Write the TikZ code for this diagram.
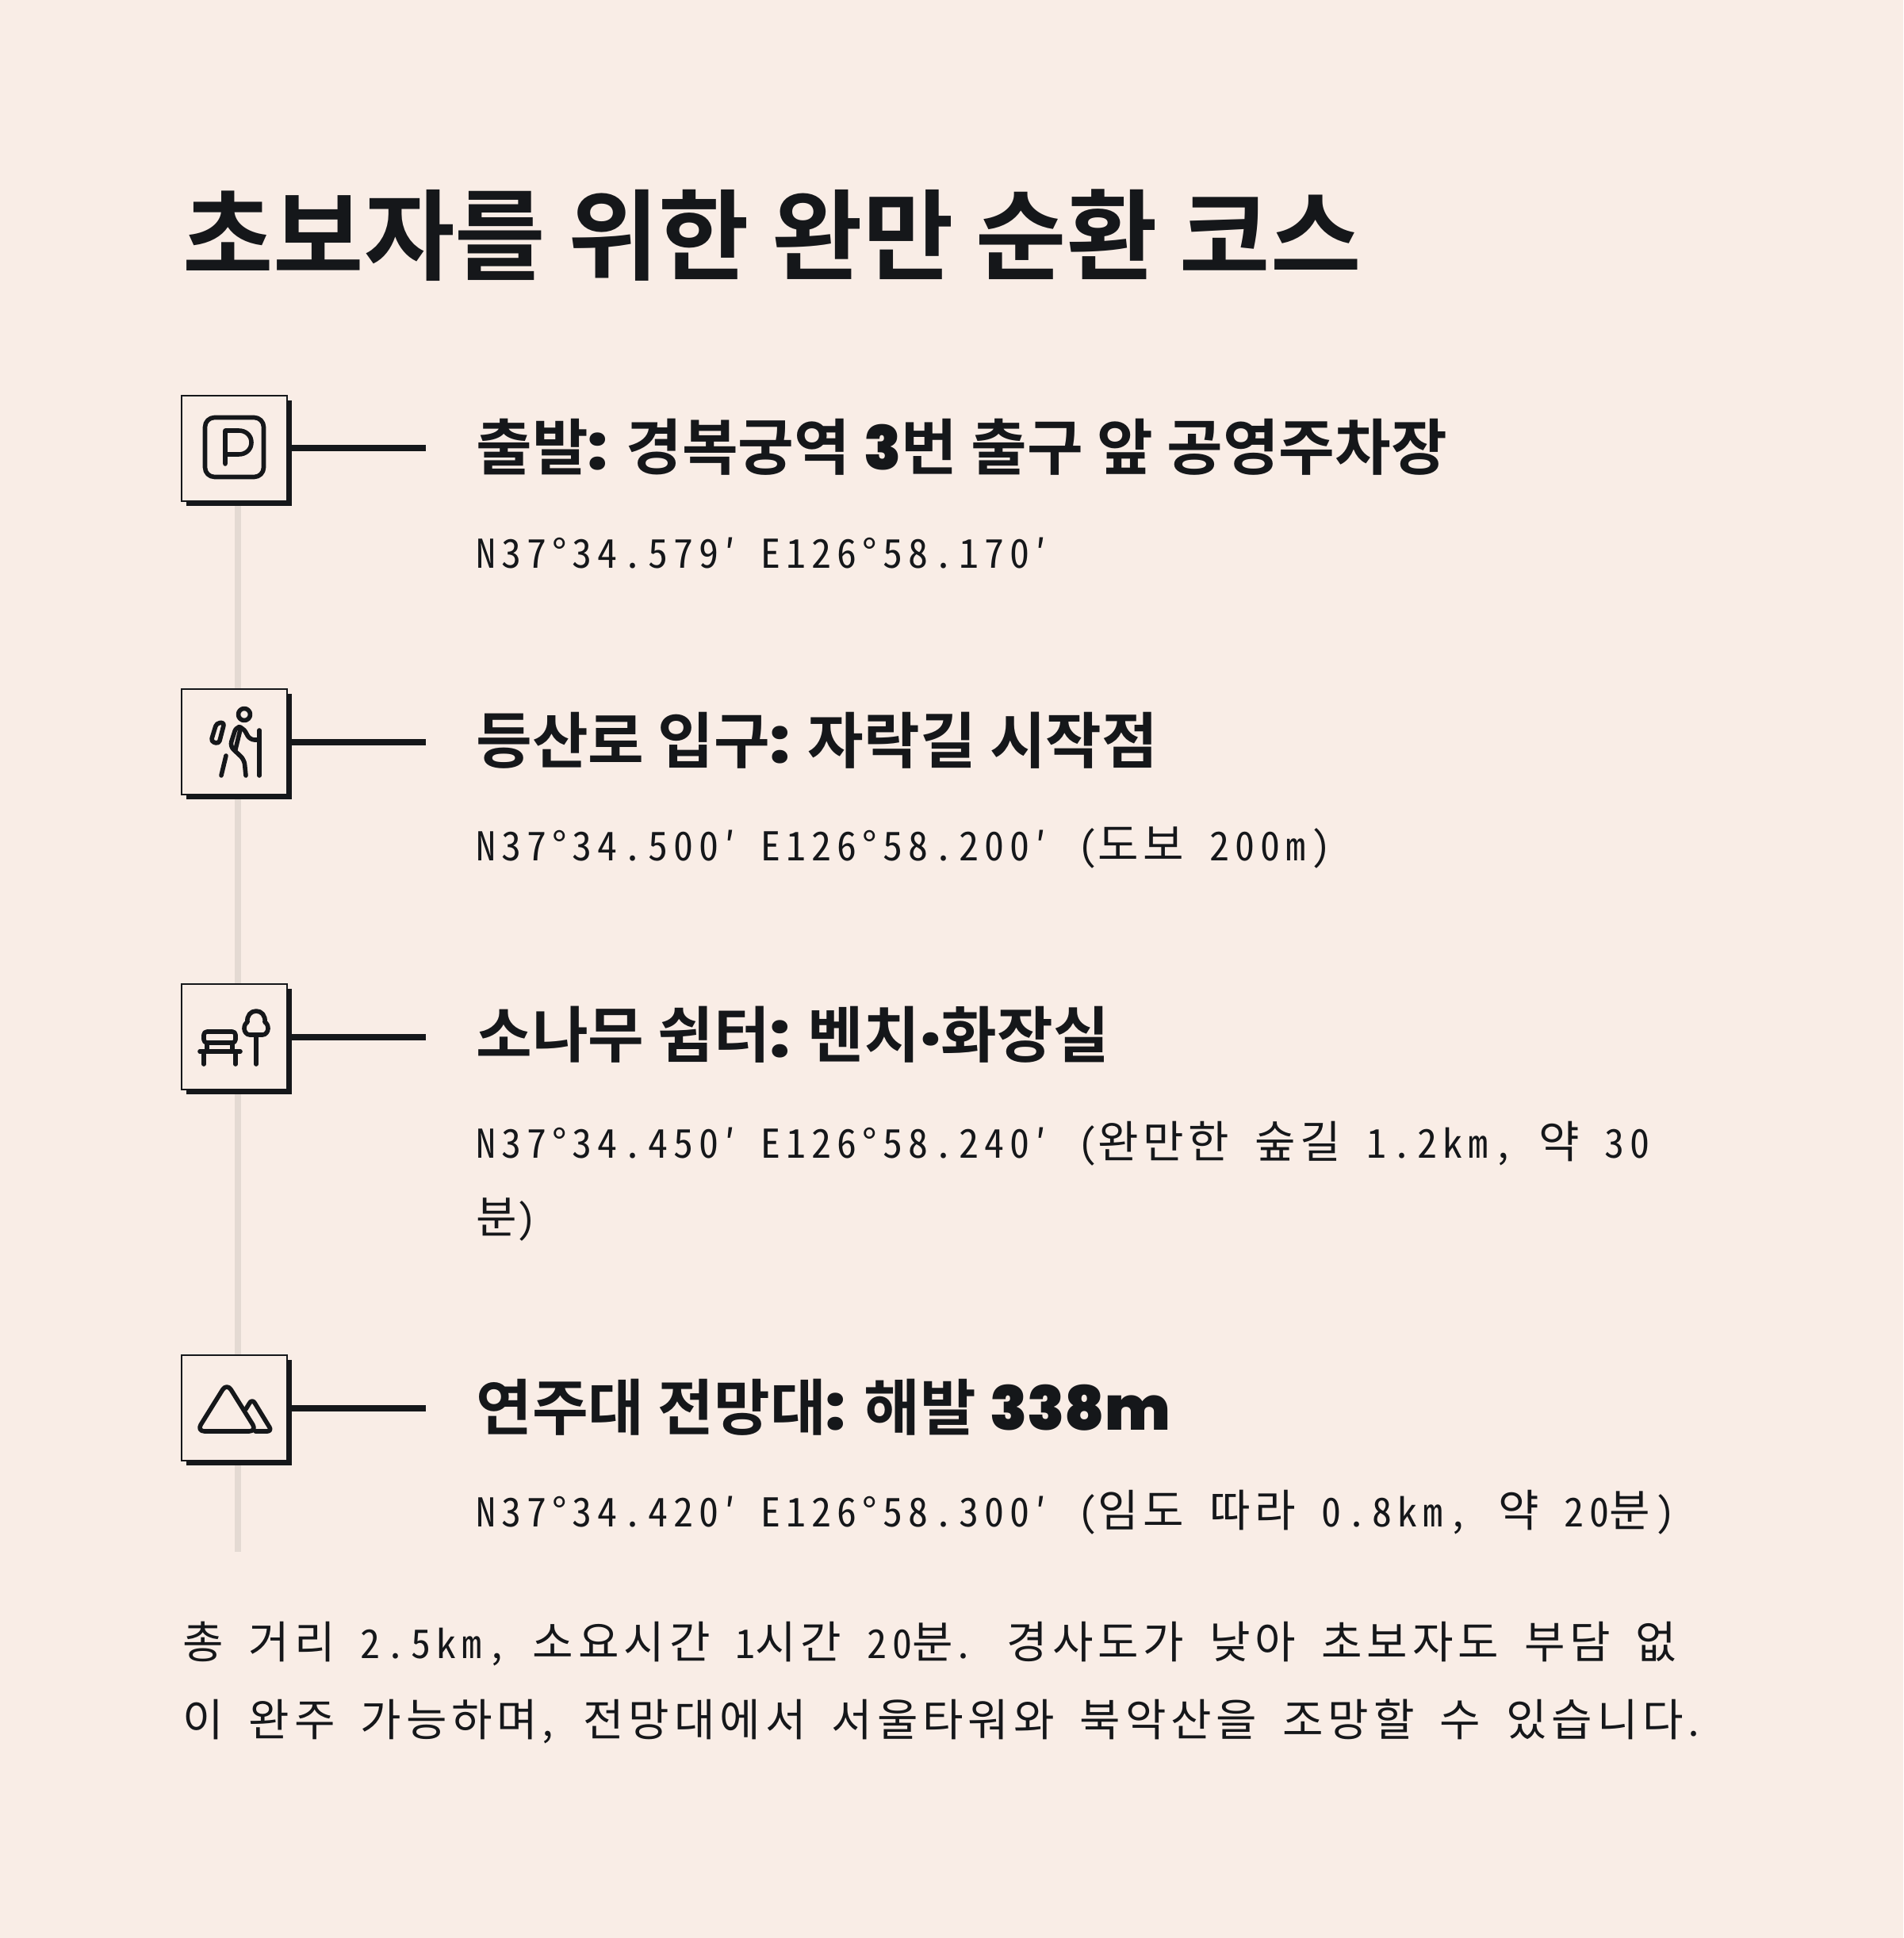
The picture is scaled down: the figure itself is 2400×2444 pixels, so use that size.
\documentclass[tikz,border=0pt]{standalone}
\usepackage{fontspec}
\usepackage{xcolor}
\usetikzlibrary{positioning, backgrounds, shadows}
\setmainfont{Noto Sans CJK KR}[BoldFont={* Black}]
\newfontfamily\titlefont{Noto Sans CJK KR Bold}
\newfontfamily\coordfont{Noto Sans Mono CJK KR}[LetterSpace=14]
\newfontfamily\hangulfont{Noto Sans Mono CJK KR}[Scale=1.12,LetterSpace=10.5]
\newfontfamily\heavyfont{Poppins}[UprightFont={* Black}]
\newcommand{\hv}[1]{{\heavyfont #1}}
\newcommand{\hg}[1]{{\hangulfont #1}}
\definecolor{paper}{HTML}{F9EDE6}
\definecolor{ink}{HTML}{15171A}
\definecolor{trailcol}{HTML}{E4DAD3}

\begin{document}
\begin{tikzpicture}[
    x=0.5pt, y=-0.5pt,
    iconbox/.style={rectangle, draw=ink, line width=1pt, fill=paper, minimum size=66.5pt, inner sep=0pt,
        drop shadow={shadow xshift=3pt, shadow yshift=-3pt, fill=ink, opacity=1}},
    stem/.style={draw=ink, line width=4pt},
    trail/.style={draw=trailcol, line width=4pt},
    glyph/.style={draw=ink, line width=2.8pt, line cap=round, line join=round},
    headline/.style={anchor=base west, inner sep=0pt, text=ink, font=\titlefont\fontsize{62.2}{66}\selectfont},
    stoplabel/.style={anchor=base west, inner sep=0pt, text=ink, font=\titlefont\fontsize{38.4}{42}\selectfont},
    coordlabel/.style={anchor=base west, inner sep=0pt, text=ink, align=left, font=\coordfont\fontsize{25}{47.5}\selectfont},
    footnote/.style={anchor=base west, inner sep=0pt, text=ink, align=left, font=\coordfont\fontsize{25}{49}\selectfont}
]
    \useasboundingbox (0,0) rectangle (2400,2444);

    % Title
    \node[headline] (title) at (230,344) {초보자를 위한 완만 순환 코스};

    % Stops
    \node[iconbox] (park) at (295.5,565.5) {};
    \node[iconbox] (hiker) at (295.5,935.5) {};
    \node[iconbox] (rest) at (295.5,1307.5) {};
    \node[iconbox] (peak) at (295.5,1775.5) {};

    % Stop labels
    \node[stoplabel] (parkT) at (600,593) {출발\hv{:} 경복궁역 \hv{3}번 출구 앞 공영주차장};
    \node[coordlabel] (parkC) at (600,716) {N37°34.579′ E126°58.170′};
    \node[stoplabel] (hikerT) at (600,962) {등산로 입구\hv{:} 자락길 시작점};
    \node[coordlabel] (hikerC) at (600,1085) {N37°34.500′ E126°58.200′ \kern4pt(\hg{도보} 200m)};
    \node[stoplabel] (restT) at (600,1333) {소나무 쉼터\hv{:} 벤치\hv{·}화장실};
    \node[coordlabel] (restC) at (600,1555) {N37°34.450′ E126°58.240′ \kern4pt(\hg{완만한} \hg{숲길} 1.2km, \hg{약} 30\\\hg{분})};
    \node[stoplabel] (peakT) at (600,1803) {연주대 전망대\hv{:} 해발 \hv{338m}};
    \node[coordlabel] (peakC) at (600,1925) {N37°34.420′ E126°58.300′ \kern4pt(\hg{임도} \hg{따라} 0.8km, \kern3pt\hg{약} 20\hg{분}\kern3pt)};

    % Summary
    \node[footnote] (summary) at (230,2189) {\hg{총} \hg{거리} 2.5km, \hg{소요시간} 1\hg{시간} 20\hg{분}. \hg{경사도가} \hg{낮아} \hg{초보자도} \hg{부담} \hg{없}\\\hg{이} \hg{완주} \hg{가능하며}, \hg{전망대에서} \hg{서울타워와} \hg{북악산을} \hg{조망할} \hg{수} \hg{있습니다}.};

    % Leader lines
    \coordinate[right=87pt of park.east] (parkE);
    \coordinate[right=87pt of hiker.east] (hikerE);
    \coordinate[right=87pt of rest.east] (restE);
    \coordinate[right=87pt of peak.east] (peakE);
    \draw[stem] (park.east) -- (parkE);
    \draw[stem] (hiker.east) -- (hikerE);
    \draw[stem] (rest.east) -- (restE);
    \draw[stem] (peak.east) -- (peakE);

    % Trail behind the boxes
    \coordinate (trailS) at (300,565);
    \coordinate (trailE) at (300,1957);
    \begin{scope}[on background layer]
        \fill[paper] (0,0) rectangle (2400,2444);
        \draw[trail] (trailS) -- (trailE);
    \end{scope}

    % Parking icon
    \begin{scope}[shift={(228,498)}]
        \draw[glyph, rounded corners=6pt] (30.5,28.5) rectangle (104.5,103.5);
        \draw[glyph] (56,87) -- (56,45) -- (73,45) .. controls (82,45) and (89,51) .. (89,60)
            .. controls (89,69) and (82,75) .. (73,75) -- (56,75);
    \end{scope}

    % Hiker icon
    \begin{scope}[shift={(228,868)}]
        \draw[glyph] (80,33) circle (7.5);
        \draw[glyph, rounded corners=2pt] (45,44) -- (55,43) -- (48,70) -- (38,67) -- cycle;
        \draw[glyph, rounded corners=3pt] (97,65) -- (87,65) -- (79,50) -- (70,48) -- (62,73) -- (80,90) -- (82,110);
        \draw[glyph] (75,52) -- (69,77);
        \draw[glyph] (99,53) -- (99,110);
        \draw[glyph] (57,85) -- (51,110);
    \end{scope}

    % Bench and tree icon
    \begin{scope}[shift={(228,1240)}]
        \draw[glyph, rounded corners=2pt] (29,61) rectangle (69,75);
        \draw[glyph] (33,75) -- (33,86) (65,75) -- (65,86);
        \draw[glyph] (24,86) -- (75,86);
        \draw[glyph] (29,86) -- (29,102) (69,86) -- (69,102);
        \draw[glyph] (87,65) .. controls (83,65) and (80,61) .. (80,57) .. controls (80,53) and (82,50) .. (84,49)
            .. controls (83,41) and (88,35) .. (95,35) .. controls (102,35) and (107,41) .. (106,49)
            .. controls (108,50) and (110,53) .. (110,57) .. controls (110,61) and (107,65) .. (103,65) -- cycle;
        \draw[glyph] (95,65) -- (95,102);
    \end{scope}

    % Mountain icon
    \begin{scope}[shift={(228,1708)}]
        \draw[glyph, rounded corners=5pt] (58,36) -- (20,97) -- (96,97) -- cycle;
        \draw[glyph, rounded corners=3pt] (82,69) -- (90,56) -- (115,97) -- (94,97);
    \end{scope}
\end{tikzpicture}
\end{document}
